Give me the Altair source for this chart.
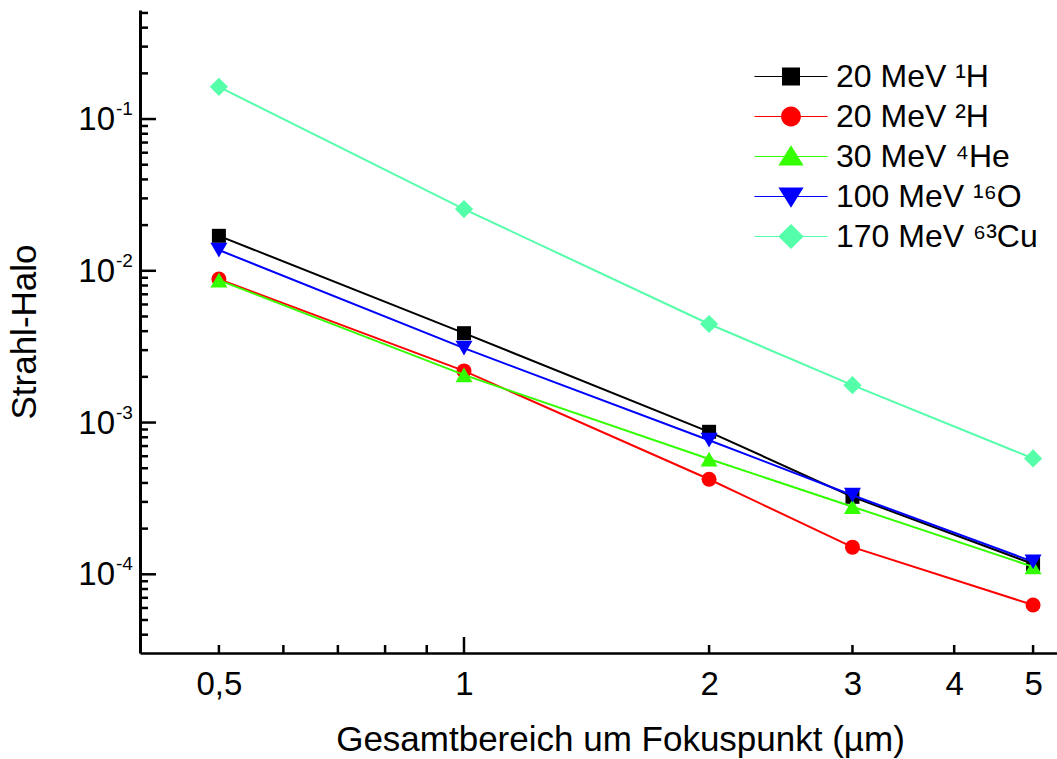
import altair as alt
import pandas as pd

# Beam halo versus total focus range for several ion species
x_range = [0.5, 1, 2, 3, 5]  # µm

series_labels = [
    "20 MeV ¹H",
    "20 MeV ²H",
    "30 MeV ⁴He",
    "100 MeV ¹⁶O",
    "170 MeV ⁶³Cu",
]
halo_h1 = [0.0170, 0.00388, 8.69e-4, 3.24e-4, 1.17e-4]
halo_h2 = [0.00882, 0.00219, 4.23e-4, 1.51e-4, 6.28e-5]
halo_he4 = [0.00868, 0.00206, 5.75e-4, 2.79e-4, 1.12e-4]
halo_o16 = [0.0137, 0.00309, 7.65e-4, 3.32e-4, 1.21e-4]
halo_cu63 = [0.163, 0.0255, 0.00446, 0.001764, 5.80e-4]

colors = ["#000000", "#FF0000", "#33FF00", "#0000FF", "#55FFAA"]
shapes = ["square", "circle", "triangle-up", "triangle-down", "diamond"]
sizes = [196, 225, 289, 289, 330]

# tick positions
x_labels = [0.5, 1, 2, 3, 4, 5]
x_major = [1]
x_minor = [0.5, 0.6, 0.7, 0.8, 0.9, 2, 3, 4, 5]
y_decades = [1e-4, 1e-3, 1e-2, 1e-1]
y_exponents = ["-4", "-3", "-2", "-1"]
y_minor = [k * 10.0 ** e for e in (-5, -4, -3, -2, -1) for k in range(2, 10)
           if 3.03e-5 <= k * 10.0 ** e <= 0.523]

W, H = 917, 643
FONT = "Liberation Sans"

rows = []
for lab, vals in zip(series_labels, [halo_h1, halo_h2, halo_he4, halo_o16, halo_cu63]):
    for xv, yv in zip(x_range, vals):
        rows.append({"series": lab, "x": xv, "y": yv})
df = pd.DataFrame(rows)

xscale = alt.Scale(type="log", domain=[0.4, 5.35], nice=False)
yscale = alt.Scale(type="log", domain=[3.03e-5, 0.523], nice=False)

x_axis = alt.Axis(
    values=x_labels,
    labelExpr="replace(toString(datum.value), '.', ',')",
    ticks=False, tickSize=0, grid=False,
    labelPadding=15, labelFontSize=33, labelFont=FONT, labelColor="black",
    labelFlush=False, labelOverlap=False,
    domainWidth=2.7, domainColor="black",
    title="Gesamtbereich um Fokuspunkt (µm)", titleFont=FONT, titleFontSize=35,
    titleFontWeight="normal", titleColor="black",
    titleX=480, titleY=97, titleBaseline="alphabetic",
)
y_axis = alt.Axis(
    labels=False, ticks=False, tickSize=0, grid=False,
    domainWidth=3, domainColor="black",
    title="Strahl-Halo", titleFont=FONT, titleFontSize=35,
    titleFontWeight="normal", titleColor="black",
    titleX=-105, titleY=321.5, titleBaseline="alphabetic", titleAngle=-90,
)

xenc = alt.X("x:Q", scale=xscale, axis=x_axis)
yenc = alt.Y("y:Q", scale=yscale, axis=y_axis)

base = alt.Chart(df)
layers = []
for lab, col, shp, sz in zip(series_labels, colors, shapes, sizes):
    sub = base.transform_filter(alt.datum.series == lab)
    layers.append(sub.mark_line(color=col, strokeWidth=2).encode(x=xenc, y=yenc))
    layers.append(
        sub.mark_point(shape=shp, filled=True, size=sz, color=col, opacity=1, strokeWidth=0)
        .encode(x=xenc, y=yenc)
    )

# legend keys: short line with the marker in its middle
L, t = 4.06, 0.06
line_part = f"M{-L},{-t}H{L}V{t}H{-L}Z"
key_paths = [
    line_part + "M-1,-1H1V1H-1Z",
    line_part + "M-1.1,0A1.1,1.1,0,1,1,1.1,0A1.1,1.1,0,1,1,-1.1,0Z",
    line_part + "M0,-1.25L1.4,1.0L-1.4,1.0Z",
    line_part + "M0,1.25L-1.4,-1.0L1.4,-1.0Z",
    line_part + "M-1.4,0L0,-1.4L1.4,0L0,1.4Z",
]
legend = alt.Legend(
    orient="none", legendX=635, legendY=50.5, title=None,
    labelFont=FONT, labelFontSize=32, labelColor="black", labelLimit=0,
    symbolSize=324, symbolStrokeWidth=0, labelOffset=29, rowPadding=8, padding=0,
)
layers.append(
    base.transform_filter("false")
    .mark_point(filled=True, opacity=1, strokeWidth=0)
    .encode(
        x=xenc, y=yenc,
        fill=alt.Fill("series:N", scale=alt.Scale(domain=series_labels, range=colors), legend=legend),
        shape=alt.Shape("series:N", scale=alt.Scale(domain=series_labels, range=key_paths), legend=legend),
    )
)

# inward-pointing ticks
xt_major = alt.Chart(pd.DataFrame({"x": x_major})).mark_rule(color="black", strokeWidth=2.5).encode(
    x=alt.X("x:Q", scale=xscale), y=alt.value(H), y2=alt.value(H - 16))
xt_minor = alt.Chart(pd.DataFrame({"x": x_minor})).mark_rule(color="black", strokeWidth=2.5).encode(
    x=alt.X("x:Q", scale=xscale), y=alt.value(H), y2=alt.value(H - 8))
yt_major = alt.Chart(pd.DataFrame({"y": y_decades})).mark_rule(color="black", strokeWidth=2.5).encode(
    y=alt.Y("y:Q", scale=yscale), x=alt.value(0), x2=alt.value(16))
yt_minor = alt.Chart(pd.DataFrame({"y": y_minor})).mark_rule(color="black", strokeWidth=2.5).encode(
    y=alt.Y("y:Q", scale=yscale), x=alt.value(0), x2=alt.value(8))

# power-of-ten labels on the y axis
ylab_df = pd.DataFrame({"y": y_decades, "base": ["10"] * len(y_decades), "exp": y_exponents})
ylab_base = alt.Chart(ylab_df).mark_text(
    align="right", baseline="alphabetic", dy=11, fontSize=33, font=FONT, color="black"
).encode(y=alt.Y("y:Q", scale=yscale), x=alt.value(-25), text="base:N")
ylab_exp = alt.Chart(ylab_df).mark_text(
    align="left", baseline="alphabetic", dy=-4, dx=1, fontSize=19, font=FONT, color="black"
).encode(y=alt.Y("y:Q", scale=yscale), x=alt.value(-25), text="exp:N")

chart = alt.layer(
    xt_major, xt_minor, yt_major, yt_minor, *layers, ylab_base, ylab_exp
).properties(
    width=W, height=H,
    background="white",
    autosize=alt.AutoSizeParams(type="none"),
    padding={"left": 140, "top": 10, "right": 0, "bottom": 106},
).configure_view(stroke="transparent", strokeWidth=0)

chart.save("out.html", embed_options={"renderer": "svg", "actions": False})
